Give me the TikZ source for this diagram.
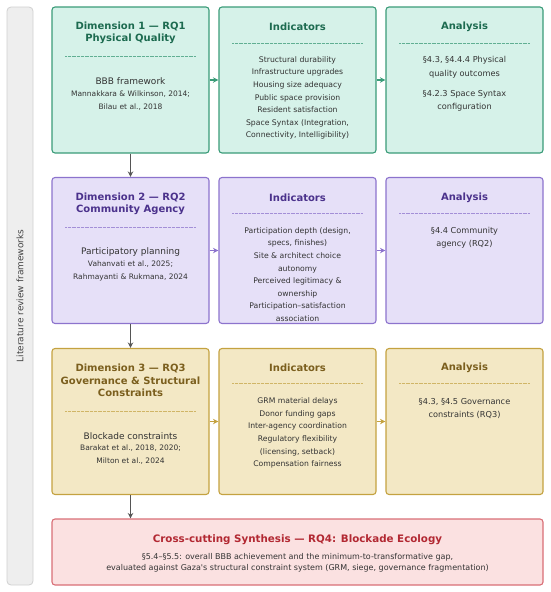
\documentclass[tikz,border=0pt]{standalone}
\usepackage{fontspec}
\setmainfont{DejaVu Sans}
\usepackage{tikz}
\definecolor{bodytext}{RGB}{51, 51, 51}
\definecolor{arrowgray}{RGB}{85, 85, 85}
\definecolor{barfill}{RGB}{238, 238, 238}
\definecolor{barline}{RGB}{208, 208, 208}
\definecolor{bartext}{RGB}{68, 68, 68}
\definecolor{greenfill}{RGB}{214, 242, 233}
\definecolor{greenline}{RGB}{58, 155, 120}
\definecolor{greentext}{RGB}{29, 107, 80}
\definecolor{purplefill}{RGB}{230, 224, 248}
\definecolor{purpleline}{RGB}{140, 115, 205}
\definecolor{purpletext}{RGB}{75, 50, 140}
\definecolor{goldfill}{RGB}{243, 232, 197}
\definecolor{goldline}{RGB}{196, 162, 64}
\definecolor{goldtext}{RGB}{123, 95, 30}
\definecolor{redfill}{RGB}{251, 225, 225}
\definecolor{redline}{RGB}{217, 110, 118}
\definecolor{redtext}{RGB}{178, 40, 50}
\usetikzlibrary{arrows.meta,positioning,calc}

\begin{document}
\begin{tikzpicture}[
    x=1pt, y=-1pt,
    panel/.style={
        rectangle,
        rounded corners=3pt,
        minimum width=157pt,
        minimum height=146pt,
        inner sep=0pt,
        line width=1.1pt
    },
    head/.style={font=\fontsize{10}{12.5}\selectfont\bfseries, align=center},
    lead/.style={font=\fontsize{9}{11}\selectfont, text=bodytext},
    cite/.style={font=\fontsize{7.5}{13}\selectfont, align=center, text=bodytext},
    items/.style={font=\fontsize{7.7}{12.6}\selectfont, align=center, text=bodytext},
    refs/.style={font=\fontsize{8.2}{13.5}\selectfont, align=center, text=bodytext},
    sep/.style={dash pattern=on 0.5pt off 0.8pt, line width=0.5pt},
    arrow/.style={-{Stealth[length=5.5pt,width=5.5pt]}, line width=1.1pt},
    down/.style={arrow, arrowgray}
]
    \useasboundingbox (0,0) rectangle (550,592);

    % Side bar
    \node[rectangle, rounded corners=4pt, minimum width=26pt, minimum height=578pt,
          fill=barfill, draw=barline, line width=0.8pt] (litbar) at (20,296) {};
    \node[rotate=90, font=\fontsize{9}{11}\selectfont, text=bartext] (barlabel) at (litbar) {Literature review frameworks};

    % Row 1 -- physical quality
    \node[panel, fill=greenfill, draw=greenline] (d1) at (130.5,80) {};
    \node[panel, fill=greenfill, draw=greenline] (i1) at (297.5,80) {};
    \node[panel, fill=greenfill, draw=greenline] (a1) at (464.5,80) {};

    \node[head, text=greentext] (d1title) at (130.5,33) {Dimension 1 — RQ1\\Physical Quality};
    \draw[sep, greenline!80] (65,56) -- (196,56);
    \node[lead] (d1lead) at (130.5,81) {BBB framework};
    \node[cite] (d1cite) at (130.5,100.5) {Mannakkara \& Wilkinson, 2014;\\Bilau et al., 2018};

    \node[head, text=greentext] (i1title) at (297.5,27) {Indicators};
    \draw[sep, greenline!80] (232,43) -- (363,43);
    \node[items] (i1list) at (297.5,98) {
        Structural durability\\
        Infrastructure upgrades\\
        Housing size adequacy\\
        Public space provision\\
        Resident satisfaction\\
        Space Syntax (Integration,\\
        Connectivity, Intelligibility)
    };

    \node[head, text=greentext] (a1title) at (464.5,27) {Analysis};
    \draw[sep, greenline!80] (399,43) -- (530,43);
    \node[refs] (a1list) at (464.5,84) {
        §4.3, §4.4.4 Physical\\
        quality outcomes\\[6.5pt]
        §4.2.3 Space Syntax\\
        configuration
    };

    % Row 2 -- community agency
    \node[panel, fill=purplefill, draw=purpleline] (d2) at (130.5,250.5) {};
    \node[panel, fill=purplefill, draw=purpleline] (i2) at (297.5,250.5) {};
    \node[panel, fill=purplefill, draw=purpleline] (a2) at (464.5,250.5) {};

    \node[head, text=purpletext] (d2title) at (130.5,204) {Dimension 2 — RQ2\\Community Agency};
    \draw[sep, purpleline!80] (65,227) -- (196,227);
    \node[lead] (d2lead) at (130.5,252) {Participatory planning};
    \node[cite] (d2cite) at (130.5,270.5) {Vahanvati et al., 2025;\\Rahmayanti \& Rukmana, 2024};

    \node[head, text=purpletext] (i2title) at (297.5,198) {Indicators};
    \draw[sep, purpleline!80] (232,213) -- (363,213);
    \node[items] (i2list) at (297.5,274.5) {
        Participation depth (design,\\
        specs, finishes)\\
        Site \& architect choice\\
        autonomy\\
        Perceived legitimacy \&\\
        ownership\\
        Participation–satisfaction\\
        association
    };

    \node[head, text=purpletext] (a2title) at (464.5,198) {Analysis};
    \draw[sep, purpleline!80] (399,213) -- (530,213);
    \node[refs] (a2list) at (464.5,237.5) {§4.4 Community\\agency (RQ2)};

    % Row 3 -- governance
    \node[panel, fill=goldfill, draw=goldline] (d3) at (130.5,421.5) {};
    \node[panel, fill=goldfill, draw=goldline] (i3) at (297.5,421.5) {};
    \node[panel, fill=goldfill, draw=goldline] (a3) at (464.5,421.5) {};

    \node[head, text=goldtext] (d3title) at (130.5,380.5) {Dimension 3 — RQ3\\Governance \& Structural\\Constraints};
    \draw[sep, goldline!80] (65,411) -- (196,411);
    \node[lead] (d3lead) at (130.5,436) {Blockade constraints};
    \node[cite] (d3cite) at (130.5,455) {Barakat et al., 2018, 2020;\\Milton et al., 2024};

    \node[head, text=goldtext] (i3title) at (297.5,368) {Indicators};
    \draw[sep, goldline!80] (232,383) -- (363,383);
    \node[items] (i3list) at (297.5,433) {
        GRM material delays\\
        Donor funding gaps\\
        Inter-agency coordination\\
        Regulatory flexibility\\
        (licensing, setback)\\
        Compensation fairness
    };

    \node[head, text=goldtext] (a3title) at (464.5,368) {Analysis};
    \draw[sep, goldline!80] (399,383) -- (530,383);
    \node[refs] (a3list) at (464.5,408.5) {§4.3, §4.5 Governance\\constraints (RQ3)};

    % Synthesis
    \node[panel, minimum width=491pt, minimum height=66pt, fill=redfill, draw=redline] (syn) at (297.5,552) {};
    \node[head, font=\fontsize{10.3}{12.5}\selectfont\bfseries, text=redtext] (syntitle) at (297.5,540) {Cross-cutting Synthesis — RQ4: Blockade Ecology};
    \node[font=\fontsize{8}{11}\selectfont, align=center, text=bodytext] (synbody) at (297.5,562.5) {
        §5.4–§5.5: overall BBB achievement and the minimum-to-transformative gap,\\
        evaluated against Gaza\textquotesingle s structural constraint system (GRM, siege, governance fragmentation)
    };

    % Arrows
    \draw[arrow, greenline] (d1) -- (i1);
    \draw[arrow, greenline] (i1) -- (a1);
    \draw[arrow, purpleline] (d2) -- (i2);
    \draw[arrow, purpleline] (i2) -- (a2);
    \draw[arrow, goldline] (d3) -- (i3);
    \draw[arrow, goldline] (i3) -- (a3);
    \draw[down] (d1) -- (d2);
    \draw[down] (d2) -- (d3);
    \draw[down] (d3.south) -- (d3.south |- syn.north);
\end{tikzpicture}
\end{document}
